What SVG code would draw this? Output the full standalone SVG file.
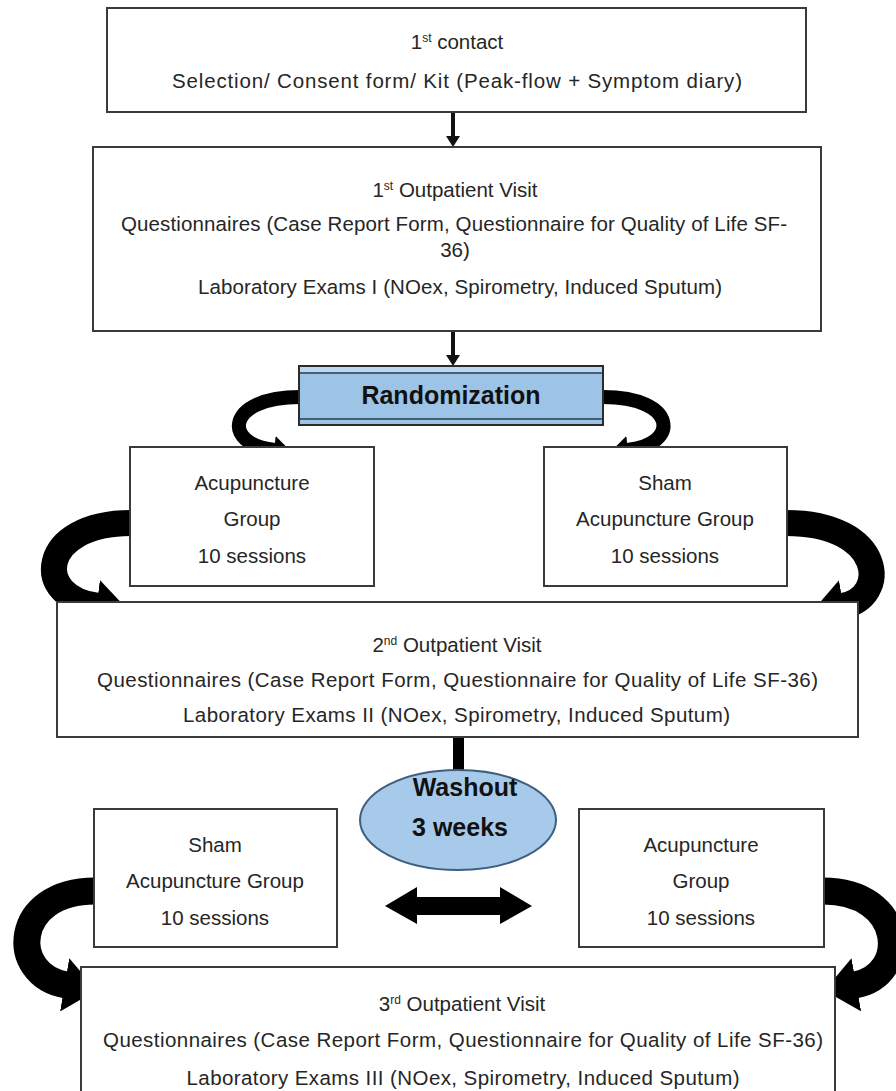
<svg xmlns="http://www.w3.org/2000/svg" width="896" height="1091" viewBox="0 0 896 1091">
<defs>
<style>
.box{fill:#fff;stroke:#3a3a3a;stroke-width:2}
.t{font-family:"Liberation Sans",Arial,sans-serif;font-size:20.5px;fill:#262626;text-anchor:middle}
.b{font-family:"Liberation Sans",Arial,sans-serif;font-weight:bold;font-size:25px;fill:#111;text-anchor:middle}
.sup{font-size:12px}
.curve{fill:none;stroke:#000;stroke-linecap:butt;marker-end:url(#head)}
</style>
<marker id="head" viewBox="0 0 12 20" refX="0.5" refY="10" markerWidth="1.2" markerHeight="2" orient="auto">
<path d="M0,0 L12,10 L0,20 z" fill="#000"/>
</marker>
</defs>
<rect width="896" height="1091" fill="#fff"/>

<g id="connectors">
<line x1="453" y1="112" x2="453" y2="137" stroke="#111" stroke-width="4"/>
<polygon points="446,136 460,136 453,147" fill="#111"/>
<line x1="453" y1="331" x2="453" y2="356" stroke="#111" stroke-width="4"/>
<polygon points="446,355 460,355 453,366" fill="#111"/>
<path class="curve" stroke-width="14" d="M300 397 C225 397 222 445 275 450"/>
<path class="curve" stroke-width="14" d="M603 397 C678 397 680 445 627 450"/>
<path class="curve" stroke-width="26" d="M131 523 C38 523 32 598 98 606"/>
<path class="curve" stroke-width="26" d="M786 523 C885 523 890 598 842 606"/>
<rect x="453" y="737" width="11" height="35" fill="#000"/>
<polygon points="385,906 417,887 417,897 500,897 500,887 532,906 500,924 500,915 417,915 417,924" fill="#000"/>
<path class="curve" stroke-width="27" d="M95 891 C12 891 8 975 66 985"/>
<path class="curve" stroke-width="27" d="M823 891 C905 891 910 975 855 985"/>
</g>

<g id="contact1">
<rect class="box" x="107" y="8" width="699" height="104"/>
<text class="t" x="457" y="49">1<tspan class="sup" dy="-7">st</tspan><tspan dy="7"> contact</tspan></text>
<text class="t" x="457" y="88" textLength="570" lengthAdjust="spacing">Selection/ Consent form/ Kit (Peak-flow + Symptom diary)</text>
</g>

<g id="visit1">
<rect class="box" x="93" y="147" width="728" height="184"/>
<text class="t" x="455" y="197">1<tspan class="sup" dy="-7">st</tspan><tspan dy="7"> Outpatient Visit</tspan></text>
<text class="t" x="454" y="231" textLength="666" lengthAdjust="spacing">Questionnaires (Case Report Form, Questionnaire for Quality of Life SF-</text>
<text class="t" x="455" y="257">36)</text>
<text class="t" x="460" y="294" textLength="524" lengthAdjust="spacing">Laboratory Exams I (NOex, Spirometry, Induced Sputum)</text>
</g>

<g id="randomization">
<rect x="299" y="366" width="304" height="59" fill="#9DC3E6" stroke="#2b2b2b" stroke-width="2"/>
<rect x="300" y="367" width="302" height="6" fill="#BCD7EF"/>
<line x1="299" y1="373" x2="603" y2="373" stroke="#2a3a4a" stroke-width="1.5"/>
<line x1="299" y1="419" x2="603" y2="419" stroke="#2a3a4a" stroke-width="1.5"/>
<text class="b" x="451" y="404">Randomization</text>
</g>

<g id="acupGroup1">
<rect class="box" x="130" y="447" width="244" height="139"/>
<text class="t" x="252" y="490">Acupuncture</text>
<text class="t" x="252" y="526">Group</text>
<text class="t" x="252" y="563">10 sessions</text>
</g>

<g id="shamGroup1">
<rect class="box" x="544" y="447" width="243" height="139"/>
<text class="t" x="665" y="490">Sham</text>
<text class="t" x="665" y="526">Acupuncture Group</text>
<text class="t" x="665" y="563">10 sessions</text>
</g>

<g id="visit2">
<rect class="box" x="57" y="602" width="801" height="135"/>
<text class="t" x="457" y="652">2<tspan class="sup" dy="-7">nd</tspan><tspan dy="7"> Outpatient Visit</tspan></text>
<text class="t" x="457.5" y="687" textLength="721" lengthAdjust="spacing">Questionnaires (Case Report Form, Questionnaire for Quality of Life SF-36)</text>
<text class="t" x="456.5" y="722" textLength="547" lengthAdjust="spacing">Laboratory Exams II (NOex, Spirometry, Induced Sputum)</text>
</g>

<g id="washout">
<ellipse cx="458" cy="820" rx="98" ry="50" fill="#A7CAEA" stroke="#3f5f80" stroke-width="2"/>
<text class="b" x="465" y="796">Washout</text>
<text class="b" x="460" y="836">3 weeks</text>
</g>

<g id="shamGroup2">
<rect class="box" x="94" y="809" width="243" height="138"/>
<text class="t" x="215" y="852">Sham</text>
<text class="t" x="215" y="888">Acupuncture Group</text>
<text class="t" x="215" y="925">10 sessions</text>
</g>

<g id="acupGroup2">
<rect class="box" x="579" y="809" width="245" height="138"/>
<text class="t" x="701" y="852">Acupuncture</text>
<text class="t" x="701" y="888">Group</text>
<text class="t" x="701" y="925">10 sessions</text>
</g>

<g id="visit3">
<rect class="box" x="81" y="967" width="754" height="140"/>
<text class="t" x="462" y="1011">3<tspan class="sup" dy="-7">rd</tspan><tspan dy="7"> Outpatient Visit</tspan></text>
<text class="t" x="463" y="1047" textLength="720" lengthAdjust="spacing">Questionnaires (Case Report Form, Questionnaire for Quality of Life SF-36)</text>
<text class="t" x="463" y="1085" textLength="553" lengthAdjust="spacing">Laboratory Exams III (NOex, Spirometry, Induced Sputum)</text>
</g>
</svg>
